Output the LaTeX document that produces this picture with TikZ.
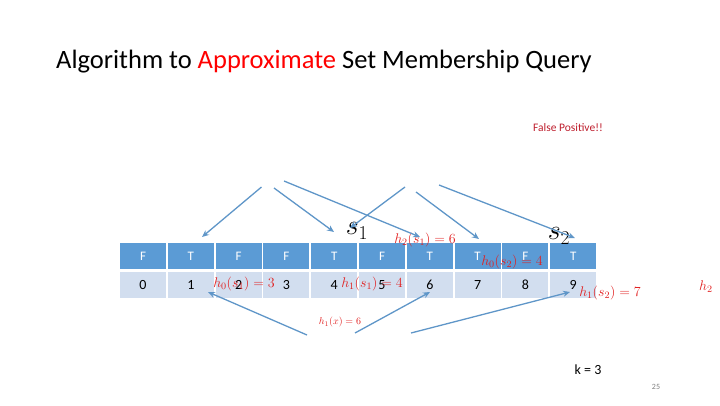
\RequirePackage{fix-cm}
\documentclass[tikz,border=0pt]{standalone}
\usepackage{fontspec}
\setmainfont{Carlito}
\usetikzlibrary{positioning,arrows.meta}
\definecolor{cellblue}{RGB}{91,155,213}
\definecolor{celllight}{RGB}{210,222,239}
\definecolor{arrowblue}{RGB}{95,150,200}
\definecolor{hred}{RGB}{225,30,30}
\definecolor{fpred}{RGB}{190,30,45}
\tikzset{
  topcell/.style={fill=cellblue, text=white, minimum width=46pt, minimum height=26pt, inner sep=0pt, font=\fontsize{13}{13}\selectfont},
  botcell/.style={fill=celllight, text=black, minimum width=46pt, minimum height=26pt, inner sep=0pt, font=\fontsize{14}{14}\selectfont},
  hash/.style={draw=arrowblue, line width=1.3pt, -{Stealth[length=7pt,width=6pt]}},
  hlabel/.style={text=hred, inner sep=0pt, font=\fontsize{14}{14}\selectfont}
}
\begin{document}
\begin{tikzpicture}[x=1pt,y=1pt]
  \useasboundingbox (0,0) rectangle (720,-405);

  % Title
  \node[anchor=west, inner sep=0pt, font=\fontsize{26.5}{26.5}\selectfont] (title) at (56,-62)
    {Algorithm to \textcolor{red}{Approximate} Set Membership Query};
  \node[text=fpred, inner sep=0pt, font=\fontsize{11.5}{11.5}\selectfont] (fp) at (568,-128) {False Positive!!};

  % The bit array
  \foreach \v [count=\i from 0] in {F,T,F,F,T,F,T,T,F,T} {
    \node[topcell] (t\i) at (143+47.8*\i,-256) {\v};
    \node[botcell] (b\i) at (143+47.8*\i,-285) {\i};
  }

  % Elements
  \node[inner sep=0pt, font=\fontsize{28}{28}\selectfont] (s1) at (357,-231) {$s_1$};
  \node[inner sep=0pt, font=\fontsize{28}{28}\selectfont] (s2) at (559,-236) {$s_2$};

  % Hash labels
  \node[hlabel] (h0s1) at (244,-284) {$h_0(s_1) = 3$};
  \node[hlabel] (h1s1) at (372,-284) {$h_1(s_1) = 4$};
  \node[hlabel] (h2s1) at (425,-240) {$h_2(s_1) = 6$};
  \node[hlabel] (h0s2) at (512,-262) {$h_0(s_2) = 4$};
  \node[hlabel] (h1s2) at (610,-293) {$h_1(s_2) = 7$};
  \node[hlabel, anchor=west] (h2s2) at (699,-287) {$h_2$};
  \node[text=hred, inner sep=0pt, font=\fontsize{10}{10}\selectfont] (h1x) at (340,-322) {$h_1(x) = 6$};

  % Arrow start and end points
  \coordinate (a1) at (261.5,-187);
  \coordinate (a2) at (274,-188);
  \coordinate (a3) at (284,-181);
  \coordinate (c1) at (405,-187);
  \coordinate (c2) at (416,-192);
  \coordinate (c3) at (439,-185);
  \coordinate (q1) at (307,-335);
  \coordinate (q2) at (355,-333);
  \coordinate (q3) at (411,-333);
  \coordinate (e1) at (202,-237);
  \coordinate (e2) at (334,-232);
  \coordinate (e3) at (420,-237);
  \coordinate (e4) at (350,-228);
  \coordinate (e5) at (479,-239);
  \coordinate (e6) at (575,-238);
  \coordinate (f1) at (208,-292);
  \coordinate (f2) at (430,-292);
  \coordinate (f3) at (570,-292);

  % Hash arrows for s1 and s2
  \draw[hash] (a1) -- (e1);
  \draw[hash] (a2) -- (e2);
  \draw[hash] (a3) -- (e3);
  \draw[hash] (c1) -- (e4);
  \draw[hash] (c2) -- (e5);
  \draw[hash] (c3) -- (e6);

  % Hash arrows for the query
  \draw[hash] (q1) -- (f1);
  \draw[hash] (q2) -- (f2);
  \draw[hash] (q3) -- (f3);

  \node[inner sep=0pt, font=\fontsize{14}{14}\selectfont] (k) at (588,-370) {k = 3};
  \node[text=gray, inner sep=0pt, font=\fontsize{8}{8}\selectfont] (pg) at (656,-387) {25};
\end{tikzpicture}
\end{document}
